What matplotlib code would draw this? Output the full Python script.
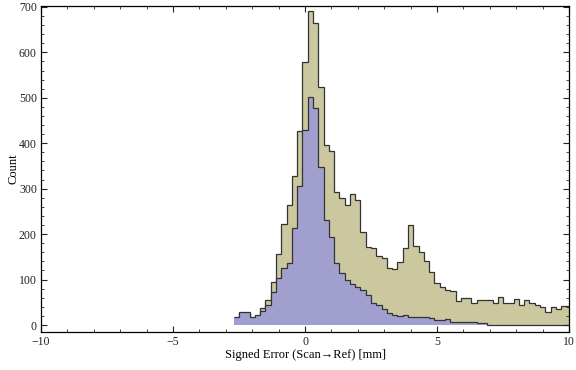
import numpy as np
import matplotlib.pyplot as plt
from matplotlib.ticker import MultipleLocator, FuncFormatter

# bin edges: 0.2 mm wide, starting at -2.7
bin_start = -2.7
bin_width = 0.2

# counts per bin (all points / subset)
all_counts = [15, 26, 26, 15, 20, 37, 55, 95, 156, 222,
              265, 328, 428, 578, 691, 664, 523, 396, 384, 293,
              279, 263, 289, 275, 204, 172, 169, 152, 147, 125,
              123, 138, 169, 220, 174, 160, 140, 117, 92, 83,
              77, 75, 53, 59, 59, 48, 55, 54, 55, 48,
              61, 48, 48, 57, 43, 55, 48, 45, 40, 29,
              39, 35, 42, 42]
sub_counts = [17, 28, 28, 17, 21, 31, 45, 73, 103, 126,
              136, 213, 305, 430, 501, 477, 347, 231, 194, 136,
              115, 100, 90, 84, 77, 67, 48, 43, 35, 26,
              22, 20, 22, 17, 18, 17, 17, 15, 10, 10,
              14, 7, 6, 6, 6, 6, 4, 4, 1, 1,
              1, 1, 1, 1, 1, 1, 1, 1, 1, 1,
              1, 1, 1, 1]

edges = bin_start + bin_width * np.arange(len(all_counts) + 1)

tan = "#cbc79f"
blue = "#a09fce"
edge = "#333333"
serif = ["Liberation Serif", "DejaVu Serif"]

fig = plt.figure(figsize=(5.76, 3.70), dpi=100)
ax = fig.add_axes([0.0712, 0.1027, 0.9168, 0.8811])

ax.stairs(all_counts, edges, fill=True, color=tan, linewidth=0)
ax.stairs(all_counts, edges, baseline=None, color=edge, linewidth=0.9)
ax.stairs(sub_counts, edges, fill=True, color=blue, linewidth=0)
ax.stairs(sub_counts, edges, baseline=None, color=edge, linewidth=0.9)

ax.set_xlim(-10, 10)
ax.set_ylim(-15.4, 702)

ax.xaxis.set_major_locator(MultipleLocator(5))
ax.xaxis.set_minor_locator(MultipleLocator(1))
ax.yaxis.set_major_locator(MultipleLocator(100))
ax.yaxis.set_minor_locator(MultipleLocator(20))
ax.xaxis.set_major_formatter(FuncFormatter(lambda v, p: f"{int(v)}".replace("-", "\u2212")))
ax.tick_params(which="both", direction="in", top=True, right=True,
               labelsize=8.5, labelfontfamily="Liberation Serif", pad=3, colors="#222222")
ax.tick_params(which="major", length=4)
ax.tick_params(which="minor", length=2)
for s in ax.spines.values():
    s.set_linewidth(0.9)

ax.set_xlabel("Signed Error (Scan\u2192Ref) [mm]", family=serif, fontsize=9)
ax.set_ylabel("Count", family=serif, fontsize=9)
ax.yaxis.set_label_coords(-0.040, 0.5)
ax.xaxis.set_label_coords(0.5, -0.052)

fig.savefig("out.png", dpi=100)
